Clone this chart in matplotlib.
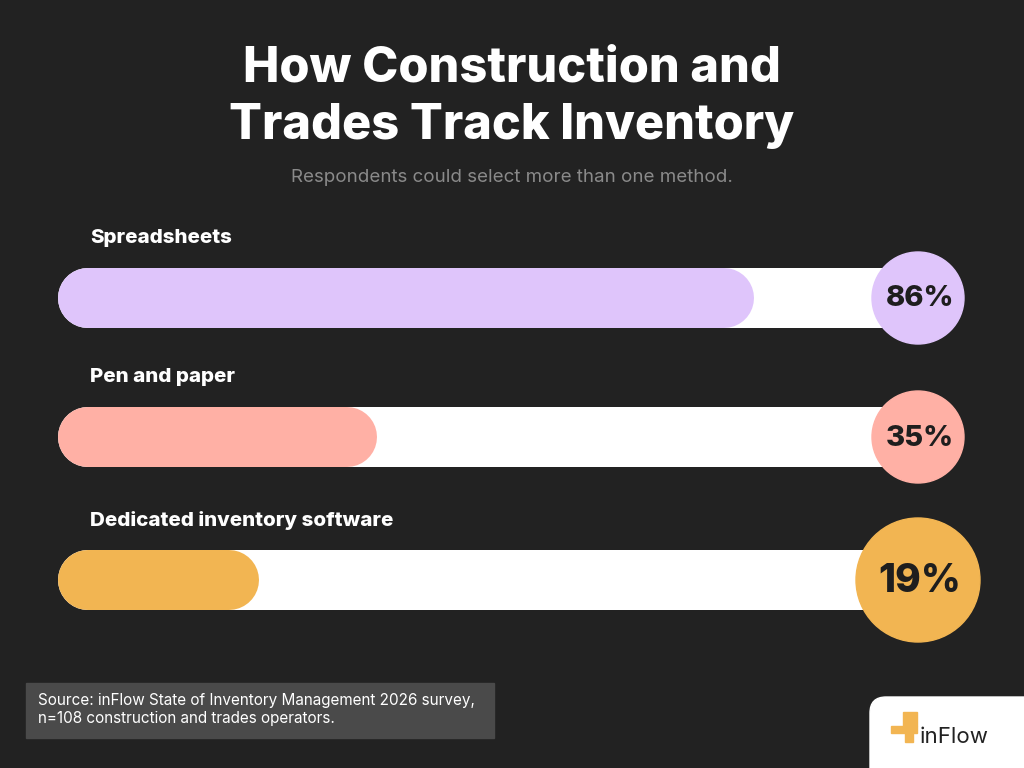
import matplotlib
matplotlib.use("Agg")
import matplotlib.pyplot as plt
from matplotlib.patches import Circle, FancyBboxPatch, Rectangle

categories = ["Spreadsheets", "Pen and paper", "Dedicated inventory software"]
values = [86, 35, 19]
colors = ["#dfc5fb", "#ffb0a5", "#f2b552"]
labels = ["86%", "35%", "19%"]

BG = "#222222"
fig = plt.figure(figsize=(10.24, 7.68), dpi=100, facecolor=BG)
ax = fig.add_axes([0, 0, 1, 1])
ax.set_xlim(0, 1024); ax.set_ylim(768, 0); ax.axis("off"); ax.set_facecolor(BG)
FONT = "Inter"

ax.text(512, 68, "How Construction and", ha="center", va="center", color="white",
        fontsize=35, fontweight="heavy", family=FONT)
ax.text(512, 126, "Trades Track Inventory", ha="center", va="center", color="white",
        fontsize=35, fontweight="heavy", family=FONT)
ax.text(512, 178, "Respondents could select more than one method.", ha="center", va="center",
        color="#8a8a8a", fontsize=13.5, family=FONT)

ys = [298, 437, 580]
radii = [46, 46, 62]
fsz = [21, 21, 28]
lw = 60 * 72 / 100
x0 = 88
scale = 7.4
for cat, v, c, lab, y, r, fs in zip(categories, values, colors, labels, ys, radii, fsz):
    ax.text(90, y - 60, cat, ha="left", va="center", color="white", fontsize=14.8,
            fontweight="heavy", family=FONT)
    ax.plot([x0, 900], [y, y], color="white", lw=lw, solid_capstyle="round", zorder=1)
    ax.plot([x0, x0 + v * scale], [y, y], color=c, lw=lw, solid_capstyle="round", zorder=2)
    ax.add_patch(Circle((918, y), r, color=c, zorder=3))
    ax.text(920, y + 1, lab, ha="center", va="center", color="#1e1e1e", fontsize=fs,
            fontweight="heavy", family=FONT, zorder=4)

ax.add_patch(Rectangle((26, 683), 468, 55, color="#4a4a4a", zorder=1))
ax.text(38, 710, "Source: inFlow State of Inventory Management 2026 survey,\nn=108 construction and trades operators.",
        ha="left", va="center", color="white", fontsize=11, family=FONT, linespacing=1.25)

ax.add_patch(FancyBboxPatch((870, 697), 200, 100, boxstyle="round,pad=0,rounding_size=16",
                            color="white", zorder=1))
ax.add_patch(Rectangle((903, 712), 14, 14, color="#f2b552", zorder=2))
ax.add_patch(Rectangle((891, 726), 26, 7, color="#f2b552", zorder=2))
ax.add_patch(Rectangle((905, 733), 8, 9, color="#f2b552", zorder=2))
ax.text(920, 737, "inFlow", ha="left", va="center", color="#222222", fontsize=16, family=FONT)

fig.savefig("out.png", dpi=100, facecolor=BG)
